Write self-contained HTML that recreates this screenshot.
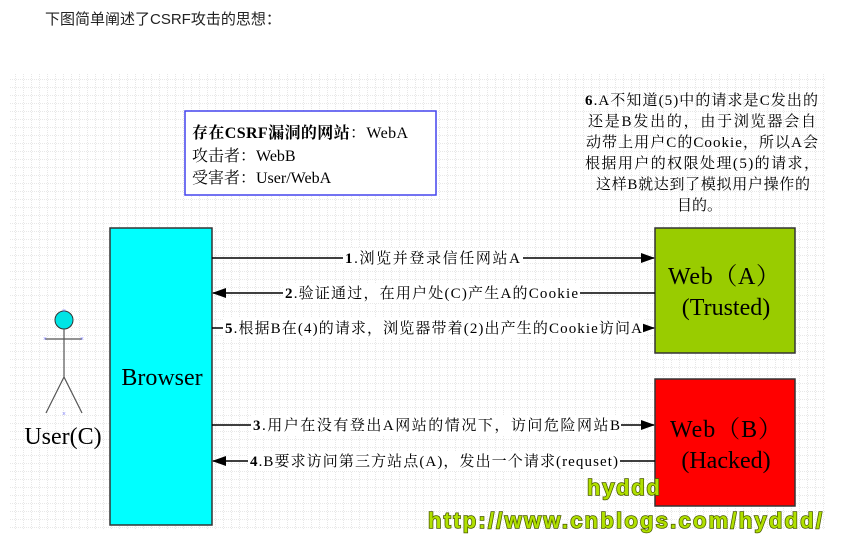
<!DOCTYPE html>
<html><head><meta charset="utf-8"><style>
body{margin:0;background:#fff;width:851px;height:542px;overflow:hidden}
svg text{font-family:"Liberation Serif","Noto Serif CJK SC",serif}
svg text.wm{font-family:"Liberation Sans","DejaVu Sans",sans-serif}
</style></head><body>
<svg width="851" height="542" xmlns="http://www.w3.org/2000/svg">
<defs>
<pattern id="g" width="8" height="8" patternUnits="userSpaceOnUse">
<path d="M8 0V8M0 8H8" stroke="#c4c4c4" stroke-width="0.8" stroke-dasharray="1,1" fill="none"/>
</pattern>
<marker id="a" markerWidth="14" markerHeight="10" refX="13" refY="5" orient="auto" markerUnits="userSpaceOnUse">
<path d="M0 0L14 5L0 10Z" fill="#000"/></marker>
</defs>
<text x="45" y="24" font-size="15" style="font-family:'Liberation Sans','Noto Sans CJK SC',sans-serif" fill="#222">下图简单阐述了CSRF攻击的思想：</text>
<rect x="10" y="73" width="816" height="457" fill="url(#g)"/>
<rect x="185" y="111" width="251" height="84" fill="#fff" stroke="#4444ee" stroke-width="1.5"/>
<text x="192" y="138" font-size="16" textLength="216"><tspan font-weight="bold">存在CSRF漏洞的网站</tspan>：WebA</text>
<text x="192" y="161" font-size="16">攻击者：WebB</text>
<text x="192" y="183" font-size="16">受害者：User/WebA</text>
<g font-size="15">
<text x="585" y="105" textLength="233"><tspan font-weight="bold">6</tspan>.A不知道(5)中的请求是C发出的</text>
<text x="588" y="126" textLength="228">还是B发出的，由于浏览器会自</text>
<text x="586" y="147" textLength="232">动带上用户C的Cookie，所以A会</text>
<text x="585" y="168" textLength="234">根据用户的权限处理(5)的请求，</text>
<text x="596" y="189" textLength="214">这样B就达到了模拟用户操作的</text>
<text x="677" y="210">目的。</text>
</g>
<rect x="110" y="228" width="102" height="297" fill="#00ffff" stroke="#333" stroke-width="1.5"/>
<text x="162" y="385" font-size="24" text-anchor="middle">Browser</text>
<rect x="655" y="228" width="140" height="125" fill="#99cc00" stroke="#333" stroke-width="1.5"/>
<text x="668" y="284" font-size="24" textLength="112">Web（A）</text>
<text x="726" y="315" font-size="24" text-anchor="middle">(Trusted)</text>
<rect x="655" y="379" width="140" height="127" fill="#ff0000" stroke="#333" stroke-width="1.5"/>
<text x="670" y="437" font-size="24" textLength="112">Web（B）</text>
<text x="726" y="468" font-size="24" text-anchor="middle">(Hacked)</text>
<g stroke="#000" stroke-width="1.5" fill="none">
<path d="M212 258H654" marker-end="url(#a)"/>
<path d="M655 293H213" marker-end="url(#a)"/>
<path d="M212 328H654" marker-end="url(#a)"/>
<path d="M212 425H654" marker-end="url(#a)"/>
<path d="M655 461H213" marker-end="url(#a)"/>
</g>
<g font-size="15">
<rect x="343" y="248" width="180" height="20" fill="#fff"/>
<text x="345" y="263" textLength="175"><tspan font-weight="bold">1</tspan>.浏览并登录信任网站A</text>
<rect x="283" y="283" width="297" height="20" fill="#fff"/>
<text x="285" y="298" textLength="293"><tspan font-weight="bold">2</tspan>.验证通过，在用户处(C)产生A的Cookie</text>
<rect x="223" y="318" width="420" height="20" fill="#fff"/>
<text x="225" y="333" textLength="417"><tspan font-weight="bold">5</tspan>.根据B在(4)的请求，浏览器带着(2)出产生的Cookie访问A</text>
<rect x="251" y="415" width="370" height="20" fill="#fff"/>
<text x="253" y="430" textLength="367"><tspan font-weight="bold">3</tspan>.用户在没有登出A网站的情况下，访问危险网站B</text>
<rect x="248" y="451" width="372" height="20" fill="#fff"/>
<text x="250" y="466" textLength="368"><tspan font-weight="bold">4</tspan>.B要求访问第三方站点(A)，发出一个请求(requset)</text>
</g>
<circle cx="64" cy="320" r="9" fill="#00e5e5" stroke="#333"/>
<g stroke="#555" stroke-width="1.2" fill="none"><path d="M45 339H82M64 329V377L46 413M64 377L82 413"/></g>
<g fill="#66f" font-size="7" text-anchor="middle"><text x="64" y="313">×</text><text x="45" y="341">×</text><text x="82" y="341">×</text><text x="64" y="416">×</text></g>
<text x="63" y="444" font-size="24" text-anchor="middle">User(C)</text>
<g font-weight="bold" fill="#b0e000" stroke="#4a5a00" stroke-width="1.5" style="paint-order:stroke">
<text class="wm" x="587" y="495" font-size="22" textLength="73">hyddd</text>
<text class="wm" x="428" y="528" font-size="22" textLength="394">http://www.cnblogs.com/hyddd/</text>
</g>
</svg>
</body></html>
